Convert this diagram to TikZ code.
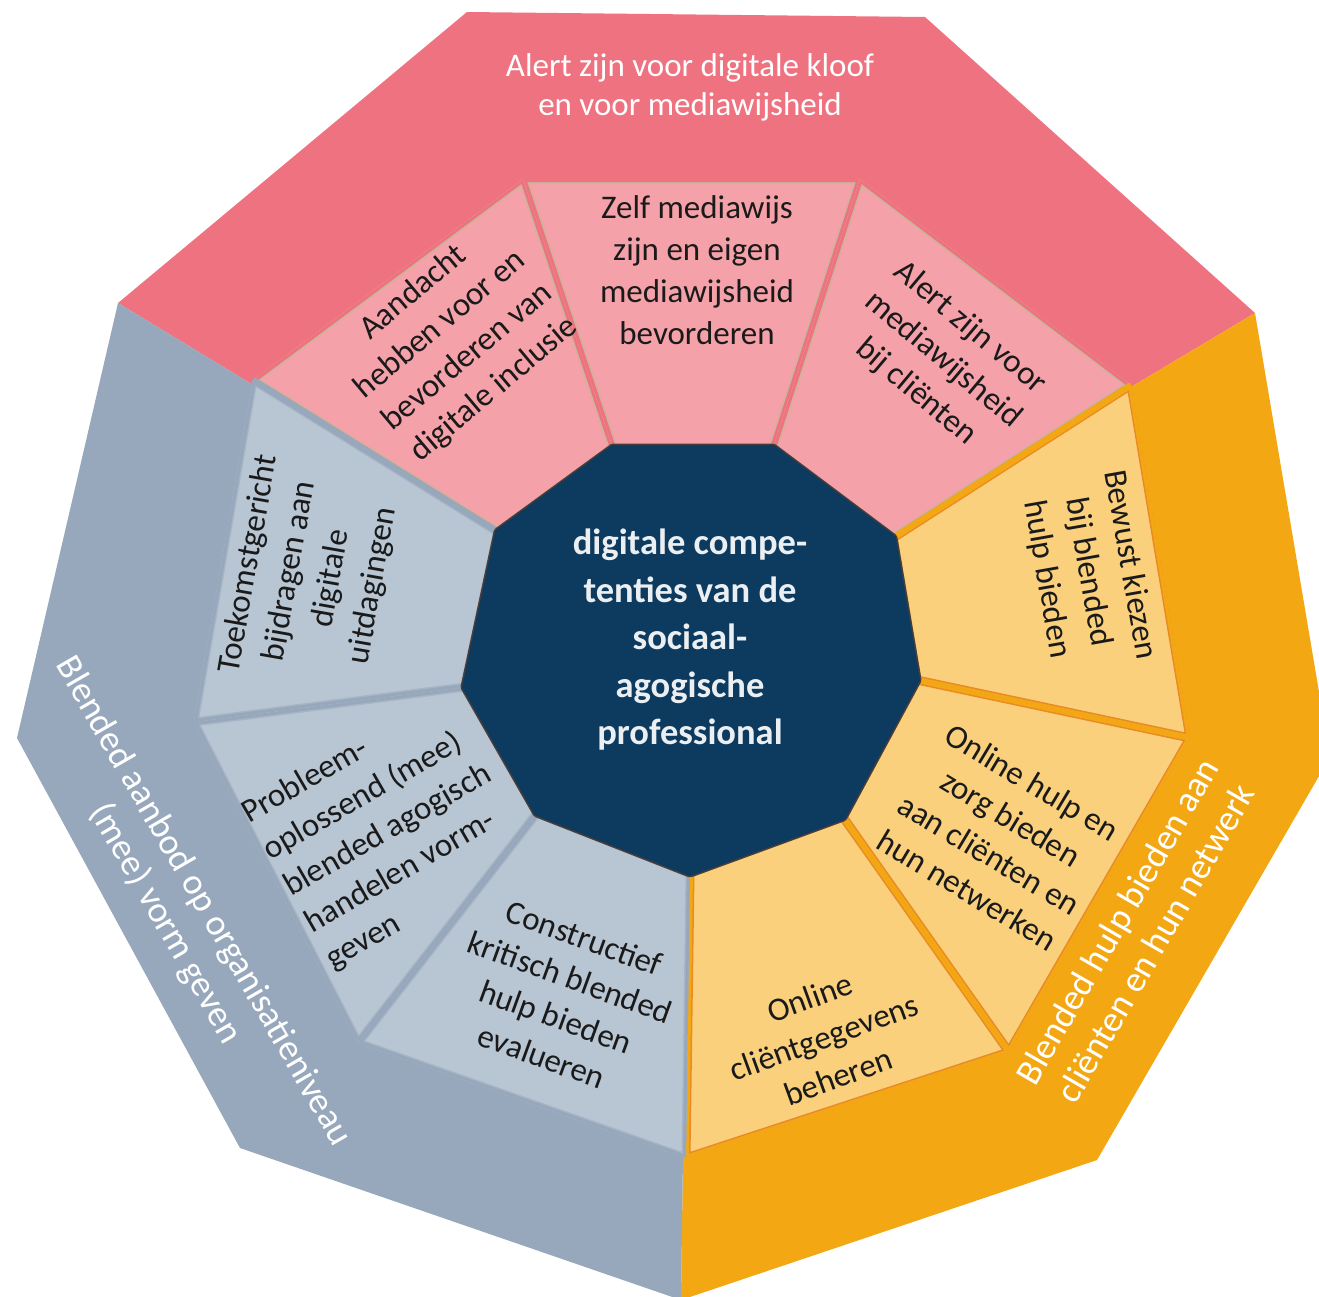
\documentclass[tikz,border=0pt]{standalone}
\usepackage{fontspec}
\setmainfont{Carlito}

\definecolor{bandpink}{HTML}{EF7280}
\definecolor{segpink}{HTML}{F4A1A9}
\definecolor{rimpink}{HTML}{C9B59B}
\definecolor{bandorange}{HTML}{F3A712}
\definecolor{segorange}{HTML}{FAD07C}
\definecolor{rimorange}{HTML}{E98A27}
\definecolor{bandgrey}{HTML}{97A8BC}
\definecolor{seggrey}{HTML}{B8C5D3}
\definecolor{rimgrey}{HTML}{A6B4C5}
\definecolor{navy}{HTML}{0D3B5F}
\definecolor{navyrim}{HTML}{4B3E3A}
\definecolor{inktext}{HTML}{1A1A1A}

\begin{document}
\begin{tikzpicture}[
		x=1pt,y=-1pt,
		seglabel/.style={font=\fontsize{33}{42}\selectfont,align=center,text=inktext,inner sep=0pt},
		bandlabel/.style={font=\fontsize{33}{39}\selectfont,align=center,text=white,inner sep=0pt},
		sidelabel/.style={font=\fontsize{36.5}{44}\selectfont,align=center,text=white,inner sep=0pt},
		corelabel/.style={font=\bfseries\fontsize{36.5}{47.5}\selectfont,align=center,text=white!92!navy,inner sep=0pt}
		]
		\useasboundingbox (0,0) rectangle (1319,1296);
		\clip (0,0) rectangle (1319,1296);
		
		% outer corners
		\coordinate (M) at (690,650);
		\coordinate (O1) at (467,12);
		\coordinate (O2) at (925,17);
		\coordinate (O3) at (1255,313);
		\coordinate (O4) at (1330,757);
		\coordinate (O5) at (1097,1160);
		\coordinate (O6) at (681,1300);
		\coordinate (O7) at (240,1148);
		\coordinate (O8) at (17,738);
		\coordinate (O9) at (118,303);
		% ring corners
		\coordinate (I1) at (523,179);
		\coordinate (I2) at (860,179);
		\coordinate (I3) at (1131,385);
		\coordinate (I4) at (1190,738);
		\coordinate (I5) at (1009,1052);
		\coordinate (I6) at (686,1158);
		\coordinate (I7) at (358,1043);
		\coordinate (I8) at (194,722);
		\coordinate (I9) at (253,380);
		% core corners
		\coordinate (C1) at (613,448);
		\coordinate (C2) at (773,448);
		\coordinate (C3) at (893,538);
		\coordinate (C4) at (917,680);
		\coordinate (C5) at (843,817);
		\coordinate (C6) at (690,873);
		\coordinate (C7) at (537,813);
		\coordinate (C8) at (465,687);
		\coordinate (C9) at (498,532);
		
		% bands
		\fill[bandpink] (M) -- (O9) -- (O1) -- (O2) -- (O3) -- cycle;
		\fill[bandorange] (M) -- (O3) -- (O4) -- (O5) -- (O6) -- cycle;
		\fill[bandgrey] (M) -- (O6) -- (O7) -- (O8) -- (O9) -- cycle;
		
		% ring segments
		\foreach \a/\b/\c in {9/1/pink,1/2/pink,2/3/pink,3/4/orange,4/5/orange,5/6/orange,6/7/grey,7/8/grey,8/9/grey}{
			\begin{scope}
				\clip (C\a) -- (C\b) -- (I\b) -- (I\a) -- cycle;
				\filldraw[fill=seg\c,draw=rim\c,line width=9pt] (C\a) -- (C\b) -- (I\b) -- (I\a) -- cycle;
				\draw[band\c,line width=6pt] (C\a) -- (C\b) -- (I\b) -- (I\a) -- cycle;
			\end{scope}
		}
		\draw[bandgrey,line width=6pt] (C9) -- (I9);
		\draw[bandorange,line width=6pt] (C3) -- (I3);
		
		% core
		\draw[navyrim,line width=9pt,line join=round] (C1) -- (C2) -- (C3) -- (C4) -- (C5) -- (C6) -- (C7) -- (C8) -- (C9) -- cycle;
		\filldraw[fill=navy,draw=navy,line width=6pt,line join=round] (C1) -- (C2) -- (C3) -- (C4) -- (C5) -- (C6) -- (C7) -- (C8) -- (C9) -- cycle;
		
		\node[corelabel] (core) at (690,640) {digitale compe-\\tenties van de\\sociaal-\\agogische\\professional};
		
		\node[bandlabel] (kloof) at (690,87) {Alert zijn voor digitale kloof\\en voor mediawijsheid};
		\node[sidelabel,rotate=-60] (aanbod) at (184,913) {Blended aanbod op organisatieniveau\\(mee) vorm geven};
		\node[sidelabel,rotate=60] (hulpnetwerk) at (1136,932) {Blended hulp bieden aan\\cliënten en hun netwerk};
		
		\node[seglabel,rotate=40] (aandacht) at (454,341) {Aandacht\\hebben voor en\\bevorderen van\\digitale inclusie};
		\node[seglabel] (zelf) at (697,270) {Zelf mediawijs\\zijn en eigen\\mediawijsheid\\bevorderen};
		\node[seglabel,rotate=-40] (alert) at (943,360) {Alert zijn voor\\mediawijsheid\\bij cliënten};
		\node[seglabel,rotate=-80] (bewust) at (1088,572) {Bewust kiezen\\bij blended\\hulp bieden};
		\node[seglabel,rotate=-31] (onlinehulp) at (1000,836) {Online hulp en\\zorg bieden\\aan cliënten en\\hun netwerken};
		\node[seglabel,rotate=20] (gegevens) at (824,1037) {Online\\cliëntgegevens\\beheren};
		\node[seglabel,rotate=-20] (constructief) at (563,997) {Constructief\\kritisch blended\\hulp bieden\\evalueren};
		\node[seglabel,rotate=30,align=left] (probleem) at (388,831) {Probleem-\\oplossend (mee)\\blended agogisch\\handelen vorm-\\geven};
		\node[seglabel,rotate=80] (toekomst) at (311,575) {Toekomstgericht\\bijdragen aan\\digitale\\uitdagingen};
	\end{tikzpicture}
\end{document}
